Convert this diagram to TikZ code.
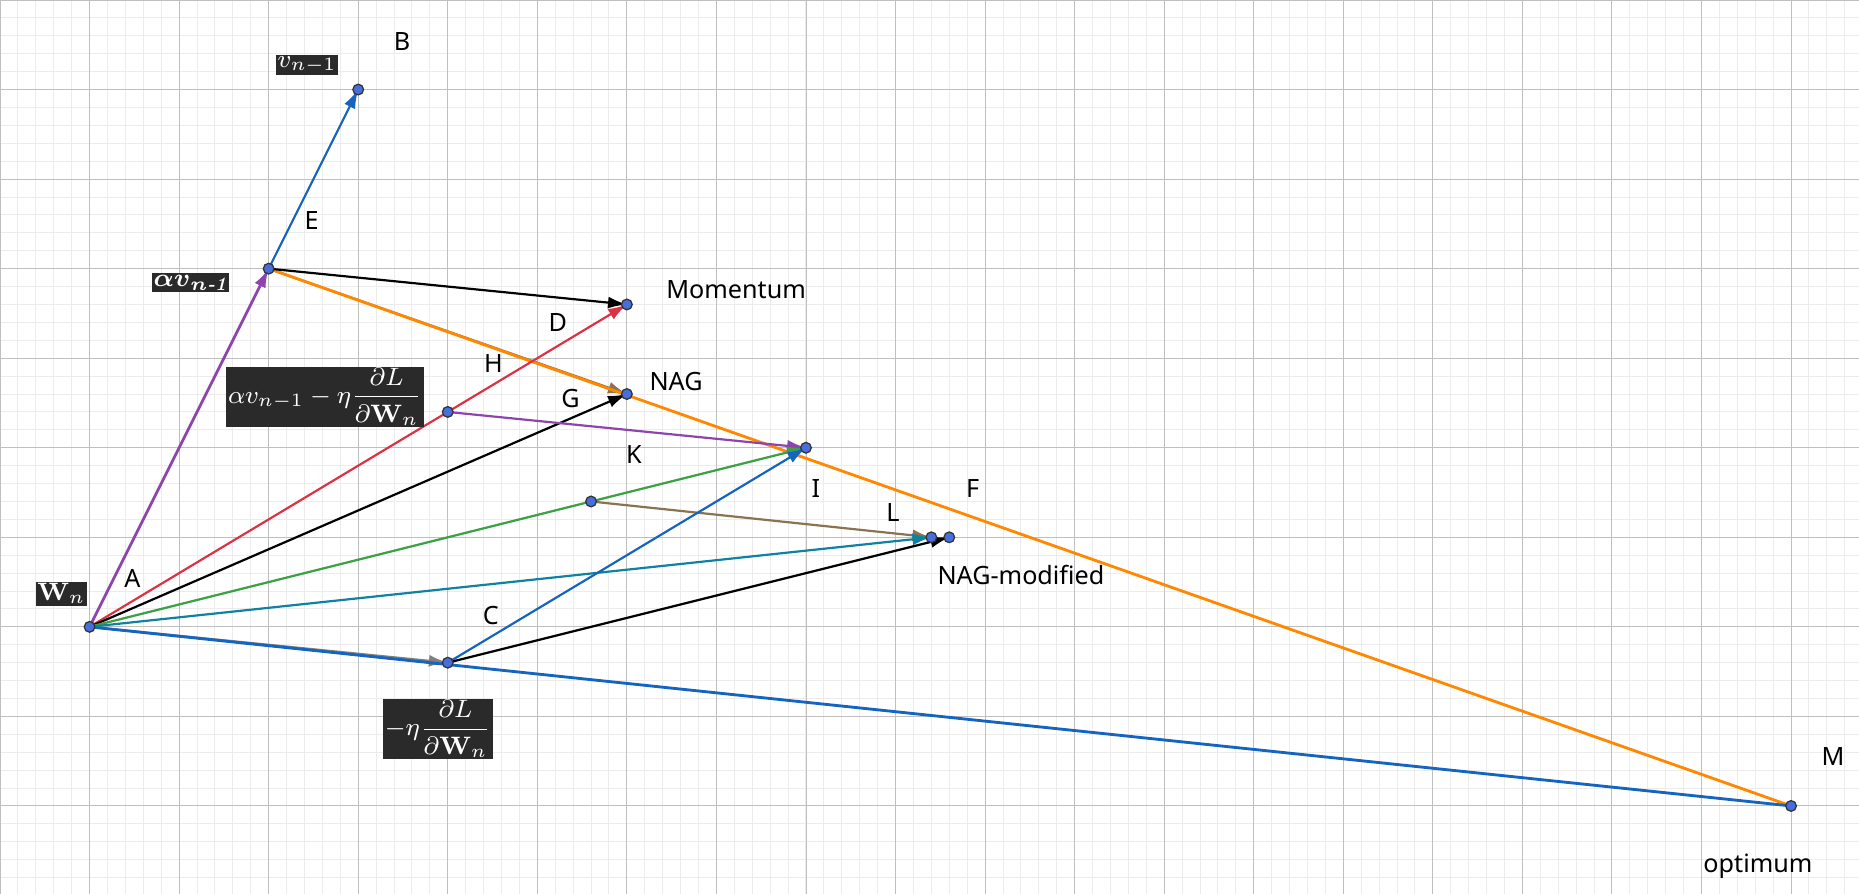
\documentclass[tikz,border=0pt]{standalone}
\usepackage{xcolor}
\usepackage{amsmath,amssymb}
\usepackage[no-math]{fontspec}
\setmainfont{Noto Sans}
\usepackage{tikz}
\usetikzlibrary{arrows.meta}

\definecolor{ggblue}{RGB}{21,101,192}
\definecolor{ggpurple}{RGB}{142,68,173}
\definecolor{ggred}{RGB}{220,50,70}
\definecolor{gggreen}{RGB}{60,160,70}
\definecolor{ggteal}{RGB}{16,130,160}
\definecolor{ggbrown}{RGB}{140,115,80}
\definecolor{ggorange}{RGB}{255,136,0}
\definecolor{gggray}{RGB}{128,128,128}
\definecolor{ggdot}{RGB}{70,110,220}
\definecolor{ggbox}{RGB}{42,42,42}

\begin{document}
\begin{tikzpicture}[x=1cm,y=1cm,>={Latex[length=6pt,width=3.8pt]},font=\footnotesize,
  vec/.style={->,line width=0.7pt},
  pt/.style={circle,fill=ggdot,draw=black!80,line width=0.4pt,inner sep=0pt,minimum size=3.4pt},
  lbl/.style={font=\footnotesize},
  mbox/.style={fill=ggbox,text=white,inner sep=0.5pt,font=\footnotesize}]
  \useasboundingbox (0,-9.983) rectangle (20.759,0);
  \draw[gray!15,line width=0.3pt,step=0.2] (0,-9.983) grid (20.759,0);
  \draw[gray!50,line width=0.3pt,step=1] (0,-9.983) grid (20.759,0);
  \coordinate (Wn) at (1,-7);
  \coordinate (Av) at (3,-3);
  \coordinate (B) at (4,-1);
  \coordinate (Mom) at (7,-3.4);
  \coordinate (Nag) at (7,-4.4);
  \coordinate (Hp) at (5,-4.6);
  \coordinate (Ip) at (9,-5);
  \coordinate (Kp) at (6.6,-5.6);
  \coordinate (Lp) at (10.4,-6);
  \coordinate (Mod) at (10.6,-6);
  \coordinate (Gr) at (5,-7.4);
  \coordinate (Opt) at (20,-9);
  \draw[vec,gggray] (Wn) -- (Gr);
  \draw[vec,ggbrown] (Av) -- (Nag);
  \draw[ggorange,line width=0.9pt] (Av) -- (Opt);
  \draw[ggblue,line width=0.9pt] (Wn) -- (Opt);
  \draw[vec,ggpurple,line width=0.9pt] (Wn) -- (Av);
  \draw[vec,ggblue] (Av) -- (B);
  \draw[vec] (Av) -- (Mom);
  \draw[vec,ggred] (Wn) -- (Mom);
  \draw[vec] (Wn) -- (Nag);
  \draw[vec,ggpurple] (Hp) -- (Ip);
  \draw[vec,gggreen] (Wn) -- (Ip);
  \draw[vec,ggbrown] (Kp) -- (Lp);
  \draw[vec,ggteal] (Wn) -- (Lp);
  \draw[vec,ggblue] (Gr) -- (Ip);
  \draw[vec] (Gr) -- (Mod);
  \foreach \p in {Wn,Av,B,Mom,Nag,Hp,Ip,Kp,Lp,Mod,Gr,Opt}
    \node[pt] (dot\p) at (\p) {};
  \node[lbl] (labB) at (4.49,-0.46) {B};
  \node[lbl] (labE) at (3.48,-2.46) {E};
  \node[lbl] (labD) at (6.23,-3.6) {D};
  \node[lbl] (labH) at (5.51,-4.06) {H};
  \node[lbl] (labG) at (6.37,-4.45) {G};
  \node[lbl] (labK) at (7.08,-5.07) {K};
  \node[lbl] (labI) at (9.11,-5.46) {I};
  \node[lbl] (labF) at (10.86,-5.46) {F};
  \node[lbl] (labL) at (9.97,-5.72) {L};
  \node[lbl] (labA) at (1.48,-6.46) {A};
  \node[lbl] (labC) at (5.48,-6.87) {C};
  \node[lbl] (labM) at (20.47,-8.45) {M};
  \node[lbl] (labMom) at (8.22,-3.23) {Momentum};
  \node[lbl] (labNag) at (7.55,-4.26) {NAG};
  \node[lbl] (labMod) at (11.4,-6.42) {NAG-modified};
  \node[lbl] (labOpt) at (19.63,-9.67) {optimum};
  \node[mbox] (labV) at (3.43,-0.725) {$v_{n-1}$};
  \node[mbox] (labAv) at (2.13,-3.155) {$\boldsymbol{\alpha v}_{\boldsymbol{n}\text{\usefont{TU}{lmr}{bx}{it}-1}}$};
  \node[mbox] (labWn) at (0.685,-6.63) {$\mathbf{W}_n$};
  \node[mbox] (labHp) at (3.63,-4.43) {$\alpha v_{n-1}-\eta\dfrac{\partial L}{\partial\mathbf{W}_n}$};
  \node[mbox] (labGr) at (4.89,-8.14) {$-\eta\dfrac{\partial L}{\partial\mathbf{W}_n}$};
\end{tikzpicture}
\end{document}
